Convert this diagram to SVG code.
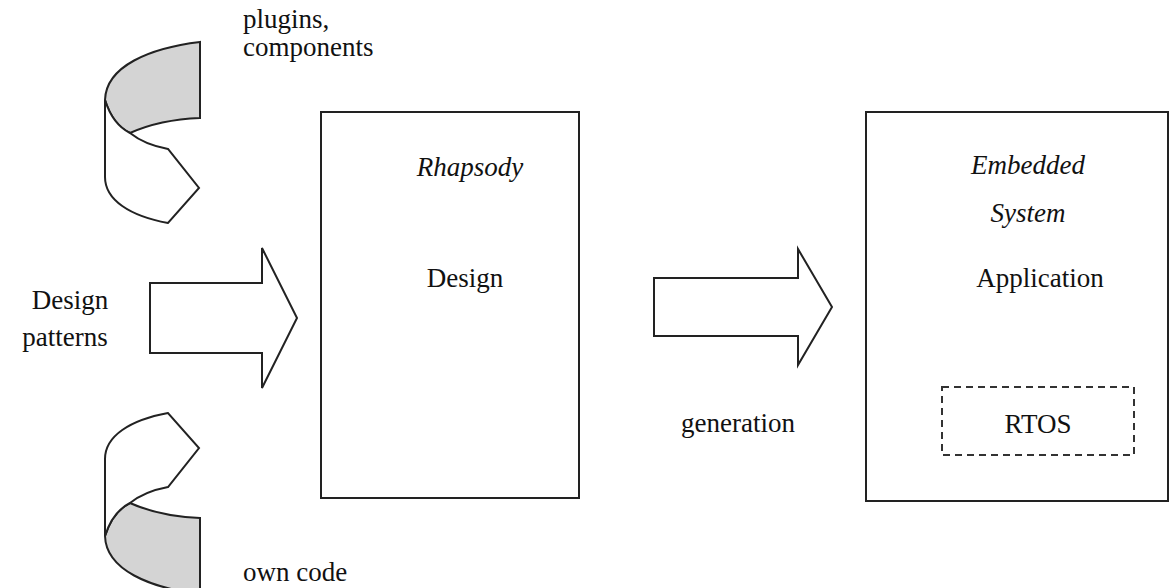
<svg xmlns="http://www.w3.org/2000/svg" width="1173" height="588" viewBox="0 0 1173 588">
<style>
.ln{fill:none;stroke:#222;stroke-width:2;stroke-linejoin:miter}
.wh{fill:#fff;stroke:#222;stroke-width:2}
.gr{fill:#d4d4d4;stroke:#222;stroke-width:2}
.t{font-family:"Liberation Serif","Times New Roman","DejaVu Serif",serif;font-size:27px;fill:#111}
.i{font-style:italic}
</style>
<rect width="1173" height="588" fill="#fff"/>
<g id="curl-top">
<path class="gr" d="M200,42 C150,48 106,66 105,100 C110,116 118,127 130,133 C150,124 175,119 200,118 Z"/>
<path class="wh" d="M105,100 C110,116 118,127 130,133 C140,141 152,146 168,149 L199,188 L168,223 C130,216 105,200 105,177 Z"/>
</g>
<g id="curl-bottom" transform="translate(0,636) scale(1,-1)">
<path class="gr" d="M200,42 C150,48 106,66 105,100 C110,116 118,127 130,133 C150,124 175,119 200,118 Z"/>
<path class="wh" d="M105,100 C110,116 118,127 130,133 C140,141 152,146 168,149 L199,188 L168,223 C130,216 105,200 105,177 Z"/>
</g>
<g id="rhapsody">
<rect class="wh" x="321" y="112" width="258" height="386"/>
<text class="t i" x="470" y="176" text-anchor="middle">Rhapsody</text>
<text class="t" x="465" y="287" text-anchor="middle">Design</text>
</g>
<g id="embedded">
<rect class="wh" x="866" y="112" width="302" height="389"/>
<text class="t i" x="1028" y="174" text-anchor="middle">Embedded</text>
<text class="t i" x="1028" y="222" text-anchor="middle">System</text>
<text class="t" x="1040" y="287" text-anchor="middle">Application</text>
</g>
<g id="rtos">
<rect x="942" y="387" width="192" height="68" fill="none" stroke="#333" stroke-width="2" stroke-dasharray="7,5"/>
<text class="t" x="1038" y="433" text-anchor="middle">RTOS</text>
</g>
<g id="connectors">
<path class="wh" d="M150,283 L262,283 L262,248 L297,318 L262,388 L262,353 L150,353 Z"/>
<path class="wh" d="M654,278 L798,278 L798,249 L832,307 L798,365 L798,336 L654,336 Z"/>
</g>
<g id="labels">
<text class="t" x="243" y="28">plugins,</text>
<text class="t" x="243" y="56">components</text>
<text class="t" x="70" y="309" text-anchor="middle">Design</text>
<text class="t" x="65" y="346" text-anchor="middle">patterns</text>
<text class="t" x="738" y="432" text-anchor="middle">generation</text>
<text class="t" x="243" y="581">own code</text>
</g>
</svg>
